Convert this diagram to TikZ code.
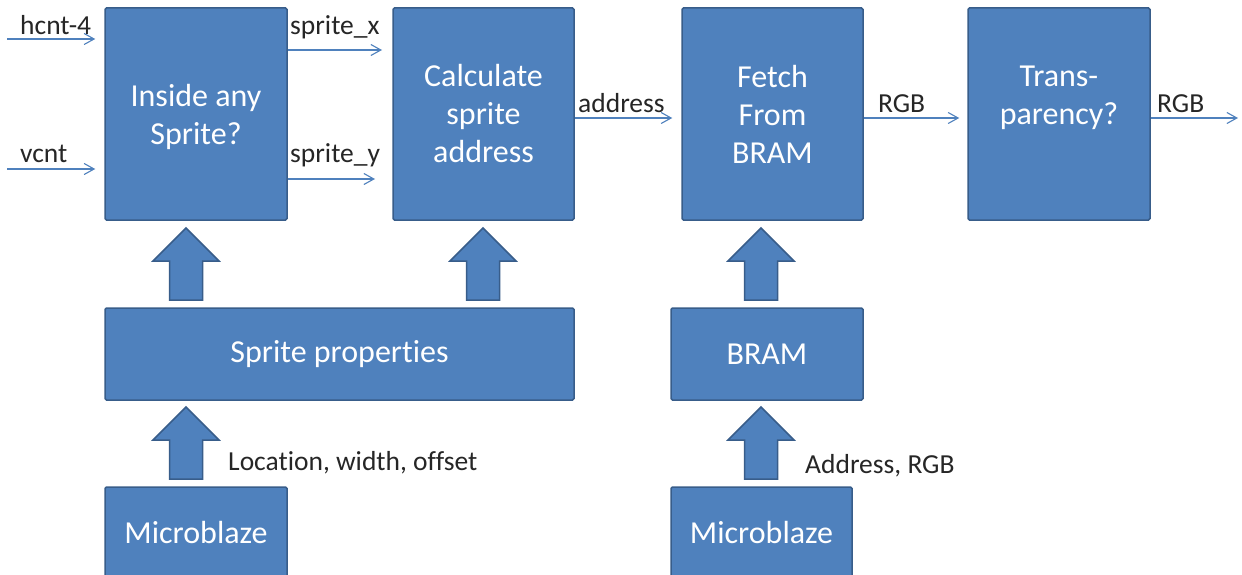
\documentclass[tikz,border=0pt]{standalone}
\usepackage{fontspec}
\setmainfont[Ligatures=NoCommon]{Carlito}
\usetikzlibrary{arrows.meta,calc}
\definecolor{boxfill}{HTML}{4F81BD}
\definecolor{boxline}{HTML}{385D8A}
\tikzset{
  box/.style={draw=boxline,fill=boxfill,line width=1.5pt,rounded corners=1.5pt,inner sep=0pt,
    text=white,font=\fontsize{32}{38}\selectfont,align=center},
  sig/.style={draw=boxfill,line width=1.1pt,-{Straight Barb[length=10pt,width=11pt,line width=1.1pt]}},
  lbl/.style={font=\fontsize{27.5}{32}\selectfont,text=black!85,inner sep=0pt},
  blockarrow/.style={draw=boxline,fill=boxfill,line width=1.5pt,line join=miter},
}
% #1 = x centre, #2 = bottom y, #3 = tip y
\newcommand\uparrowshape[3]{%
  \path[blockarrow] (#1-16.5,#2) -- (#1+16.5,#2) -- (#1+16.5,#3+33) -- (#1+33,#3+33)
    -- (#1,#3) -- (#1-33,#3+33) -- (#1-16.5,#3+33) -- cycle;}
\begin{document}
\begin{tikzpicture}[x=1pt,y=-1pt]
\clip (0,0) rectangle (1242,575);
\fill[white] (0,0) rectangle (1242,575);
% main boxes
\node[box,minimum width=182pt,minimum height=212pt] (inside) at (196,114) {};
\node[box,draw=none,fill=none] (insidetext) at (196,117) {Inside any\\Sprite?};
\node[box,minimum width=181pt,minimum height=212pt] (calc) at (483.5,114) {Calculate\\sprite\\address};
\node[box,minimum width=181pt,minimum height=212pt] (fetch) at (772.5,114) {Fetch\\From\\BRAM};
\node[box,minimum width=182pt,minimum height=212pt] (trans) at (1059,114) {};
\node[box,draw=none,fill=none] (transtext) at (1059,98) {Trans-\\parency?};
\node[box,minimum width=469pt,minimum height=92pt] (props) at (339.5,354) {Sprite properties};
\node[box,minimum width=192pt,minimum height=92pt] (bram) at (767,354) {BRAM};
\node[box,minimum width=182pt,minimum height=92pt] (mb1) at (196,533) {Microblaze};
\node[box,minimum width=181pt,minimum height=92pt] (mb2) at (761.5,533) {Microblaze};
% free ends
\coordinate (hin) at (7,39);
\coordinate (vin) at (7,169);
\coordinate (sxend) at (382,50);
\coordinate (syend) at (375,179);
\coordinate (rowy) at (0,118);
\coordinate (rgbout) at (1238,118);
% thin signal arrows
\draw[sig,shorten >=9pt] (hin) -- (hin -| inside.west);
\node[lbl,anchor=base west] (hlbl) at (20,35) {hcnt-4};
\draw[sig,shorten >=9pt] (vin) -- (vin -| inside.west);
\node[lbl,anchor=base west] (vlbl) at (20,163) {vcnt};
\draw[sig] (sxend -| inside.east) -- (sxend);
\node[lbl,anchor=base west] (sxlbl) at (290,35) {sprite\_x};
\draw[sig] (syend -| inside.east) -- (syend);
\node[lbl,anchor=base west] (sylbl) at (290,163) {sprite\_y};
\draw[sig,shorten >=9pt] (rowy -| calc.east) -- (rowy -| fetch.west);
\node[lbl,anchor=base west] (addrlbl) at (578,113) {address};
\draw[sig,shorten >=8pt] (rowy -| fetch.east) -- (rowy -| trans.west);
\node[lbl,anchor=base west] (rgb1lbl) at (878,113) {RGB};
\draw[sig] (rgbout -| trans.east) -- (rgbout);
\node[lbl,anchor=base west] (rgb2lbl) at (1157,113) {RGB};
% block arrows
\uparrowshape{186}{300}{228}
\uparrowshape{483}{300}{228}
\uparrowshape{186}{479}{407}
\uparrowshape{761}{300}{228}
\uparrowshape{761}{479}{407}
\node[lbl,anchor=base west] (loclbl) at (228,470) {Location, width, offset};
\node[lbl,anchor=base west] (addrrgb) at (805,473) {Address, RGB};
\end{tikzpicture}
\end{document}
